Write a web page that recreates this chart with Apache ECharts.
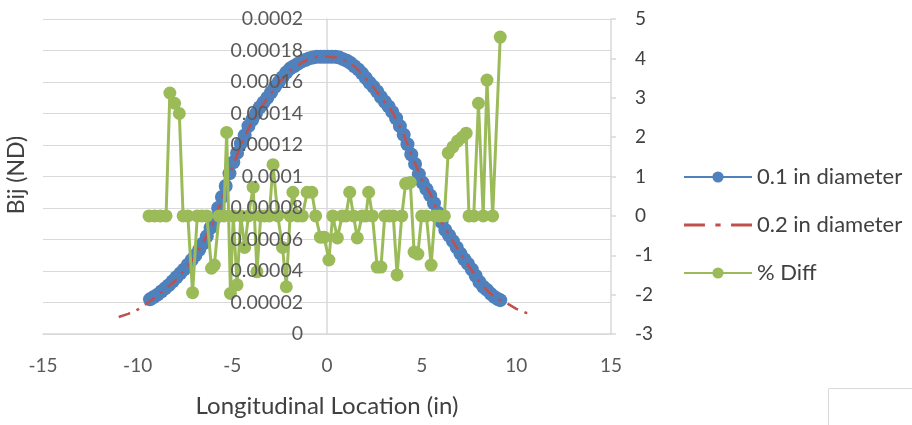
<!DOCTYPE html>
<html><head><meta charset="utf-8">
<script src="https://cdn.jsdelivr.net/npm/echarts@6/dist/echarts.min.js"></script>
<style>html,body{margin:0;padding:0;background:#fff;}#c{width:912px;height:425px;}</style>
</head><body><div id="c"></div>
<script>
const seriesNames = ['0.1 in diameter', '0.2 in diameter', '% Diff'];
const xBlue = [-9.35,-9.15,-8.95,-8.75,-8.55,-8.35,-8.15,-7.95,-7.75,-7.55,-7.35,-7.15,-6.95,-6.75,-6.55,-6.35,-6.15,-5.95,-5.75,-5.55,-5.35,-5.15,-4.95,-4.75,-4.55,-4.35,-4.15,-3.95,-3.75,-3.55,-3.35,-3.15,-2.95,-2.75,-2.55,-2.35,-2.15,-1.95,-1.75,-1.55,-1.35,-1.15,-0.95,-0.75,-0.55,-0.35,-0.15,0.05,0.25,0.45,0.65,0.85,1.05,1.25,1.45,1.65,1.85,2.05,2.25,2.45,2.65,2.85,3.05,3.25,3.45,3.65,3.85,4.05,4.25,4.45,4.65,4.85,5.05,5.25,5.45,5.65,5.85,6.05,6.25,6.45,6.65,6.85,7.05,7.25,7.45,7.65,7.85,8.05,8.25,8.45,8.65,8.85,9.05,9.15];
const blueVals = [2.20e-5,2.35e-5,2.50e-5,2.70e-5,2.90e-5,3.10e-5,3.35e-5,3.60e-5,3.85e-5,4.10e-5,4.40e-5,4.70e-5,5.00e-5,5.35e-5,5.75e-5,6.20e-5,6.75e-5,7.30e-5,8.00e-5,8.70e-5,9.40e-5,10.20e-5,10.90e-5,11.50e-5,12.10e-5,12.60e-5,13.20e-5,13.60e-5,14.00e-5,14.40e-5,14.70e-5,15.00e-5,15.35e-5,15.70e-5,16.00e-5,16.30e-5,16.60e-5,16.85e-5,17.00e-5,17.15e-5,17.30e-5,17.40e-5,17.50e-5,17.55e-5,17.60e-5,17.60e-5,17.60e-5,17.60e-5,17.60e-5,17.60e-5,17.55e-5,17.45e-5,17.35e-5,17.20e-5,17.00e-5,16.80e-5,16.55e-5,16.25e-5,15.95e-5,15.70e-5,15.40e-5,15.05e-5,14.75e-5,14.45e-5,14.10e-5,13.70e-5,13.20e-5,12.65e-5,12.05e-5,11.40e-5,10.80e-5,10.15e-5,9.60e-5,9.20e-5,8.80e-5,8.30e-5,7.70e-5,7.10e-5,6.60e-5,6.25e-5,5.90e-5,5.50e-5,5.10e-5,4.75e-5,4.45e-5,4.10e-5,3.70e-5,3.30e-5,3.00e-5,2.80e-5,2.55e-5,2.35e-5,2.20e-5,2.15e-5];
const xRed = [-11.0,-10.5,-10.0,-9.5,-9.0,-8.5,-8.0,-7.5,-7.0,-6.5,-6.0,-5.5,-5.0,-4.5,-4.0,-3.5,-3.0,-2.5,-2.0,-1.5,-1.0,-0.5,0,0.5,1.0,1.5,2.0,2.5,3.0,3.5,4.0,4.5,5.0,5.5,6.0,6.5,7.0,7.5,8.0,8.5,9.0,9.5,10.0,10.5,10.7];
const redVals = [1.08e-5,1.28e-5,1.55e-5,1.95e-5,2.40e-5,2.90e-5,3.40e-5,4.10e-5,4.90e-5,5.90e-5,7.10e-5,8.70e-5,10.60e-5,12.10e-5,13.40e-5,14.40e-5,15.20e-5,16.00e-5,16.70e-5,17.10e-5,17.45e-5,17.60e-5,17.60e-5,17.55e-5,17.35e-5,16.95e-5,16.30e-5,15.60e-5,14.80e-5,14.00e-5,12.80e-5,11.30e-5,9.80e-5,8.80e-5,7.20e-5,6.20e-5,5.20e-5,4.30e-5,3.40e-5,2.70e-5,2.25e-5,1.95e-5,1.60e-5,1.35e-5,1.30e-5];
const xDiff = [-9.4,-9.1,-8.8,-8.5,-8.3,-8.05,-7.8,-7.6,-7.35,-7.1,-6.85,-6.6,-6.35,-6.1,-5.95,-5.7,-5.45,-5.3,-5.1,-4.95,-4.75,-4.55,-4.35,-4.15,-3.9,-3.7,-3.5,-3.3,-3.05,-2.85,-2.6,-2.35,-2.15,-1.95,-1.8,-1.55,-1.3,-1.05,-0.8,-0.6,-0.35,-0.15,0.1,0.3,0.55,0.8,1.0,1.2,1.4,1.6,1.85,2.05,2.2,2.4,2.65,2.85,3.05,3.3,3.5,3.7,3.95,4.15,4.4,4.6,4.8,5.0,5.25,5.5,5.7,5.95,6.2,6.4,6.65,6.9,7.15,7.35,7.5,7.75,8.0,8.25,8.45,8.75,9.15];
const diffVals = [0,0,0,0,3.12,2.86,2.6,0,0,-1.95,0,0,0,-1.33,-1.25,0,0,2.12,-1.97,0,-1.75,0,-0.8,0,0.73,-1.42,0,0,0,1.3,0,-0.8,-1.8,0,0.6,0,0,0.6,0.6,0,-0.54,-0.54,-1.12,0,-0.56,0,0,0.6,0,-0.56,0,0,0.6,0,-1.3,-1.3,0,0,0,-1.5,0,0.82,0.85,-0.92,-0.97,0,0,-1.25,0,0,0,1.6,1.75,1.9,2.0,2.1,0,0,2.86,0,3.45,0,4.54];

const pair = (xs, ys) => xs.map((x, i) => [x, ys[i]]);
const FONT = 'Lato';
const leftLabel = {margin: 24, fontFamily: FONT, fontSize: 19.5, color: '#595959'};
const chart = echarts.init(document.getElementById('c'), null, {renderer: 'canvas'});
chart.setOption({
  animation: false,
  backgroundColor: '#fff',
  textStyle: {fontFamily: FONT},
  grid: {left: 43, right: 301, top: 19, bottom: 91, containLabel: false, outerBoundsMode: 'none'},
  legend: {
    orient: 'vertical', left: 678, top: 161,
    itemWidth: 68, itemHeight: 14, itemGap: 26,
    data: [
      {name: seriesNames[0]},
      {name: seriesNames[1], icon: 'path://M0,0h20v3h-20z M30,0h5v3h-5z M45,0h20v3h-20z'},
      {name: seriesNames[2]}
    ],
    textStyle: {fontFamily: FONT, fontSize: 22, color: '#404040'}
  },
  xAxis: {
    type: 'value', min: -15, max: 15, interval: 5,
    name: 'Longitudinal Location (in)', nameLocation: 'middle', nameGap: 60,
    nameTextStyle: {fontFamily: FONT, fontSize: 24, color: '#404040'},
    axisLine: {onZero: false, lineStyle: {color: '#D9D9D9', width: 1.5}},
    axisTick: {show: false},
    splitLine: {show: false},
    axisLabel: {margin: 22, fontFamily: FONT, fontSize: 19, color: '#595959'}
  },
  yAxis: [{
    type: 'value', min: 0, max: 0.0002, interval: 0.00002,
    position: 'left', offset: -284,
    axisLine: {show: true, onZero: false, lineStyle: {color: '#D9D9D9', width: 1.5}},
    axisTick: {show: false},
    splitLine: {show: true, lineStyle: {color: '#D9D9D9', width: 1.2}},
    axisLabel: {show: false}
  }, {
    type: 'value', min: -3, max: 5, interval: 1, position: 'right',
    axisLine: {show: true, onZero: false, lineStyle: {color: '#D9D9D9', width: 1.5}},
    axisTick: {show: true, length: 5, lineStyle: {color: '#D9D9D9', width: 1.5}},
    splitLine: {show: false},
    axisLabel: {margin: 24, fontFamily: FONT, fontSize: 19, color: '#404040'}
  }, {
    type: 'value', min: 0, max: 0.0002, interval: 0.00002,
    position: 'left', offset: -284, z: 10,
    axisLine: {show: false, onZero: false},
    axisTick: {show: false},
    splitLine: {show: false},
    axisLabel: leftLabel
  }],
  series: [{
    name: seriesNames[0], type: 'line', yAxisIndex: 0, z: 2,
    data: pair(xBlue, blueVals),
    symbol: 'circle', symbolSize: 14, showSymbol: true,
    itemStyle: {color: '#4F81BD'},
    lineStyle: {color: '#4F81BD', width: 2.5}
  }, {
    name: seriesNames[1], type: 'line', yAxisIndex: 0, z: 3,
    data: pair(xRed, redVals),
    symbol: 'none', showSymbol: false,
    itemStyle: {color: '#C0504D'},
    lineStyle: {color: '#C0504D', width: 2.5, type: [12, 7, 3, 7]}
  }, {
    name: seriesNames[2], type: 'line', yAxisIndex: 1, z: 4,
    data: pair(xDiff, diffVals),
    symbol: 'circle', symbolSize: 13, showSymbol: true,
    itemStyle: {color: '#9BBB59'},
    lineStyle: {color: '#9BBB59', width: 3}
  }],
  graphic: [{
    type: 'text', x: 17, y: 175, rotation: Math.PI / 2,
    style: {text: 'Bij (ND)', font: '23px Lato', fill: '#404040', align: 'center', verticalAlign: 'middle'}
  }, {
    type: 'rect', left: 828, top: 388,
    shape: {x: 0, y: 0, width: 90, height: 40},
    style: {fill: '#fff', stroke: '#D9D9D9', lineWidth: 1}
  }]
});
</script>
</body></html>
